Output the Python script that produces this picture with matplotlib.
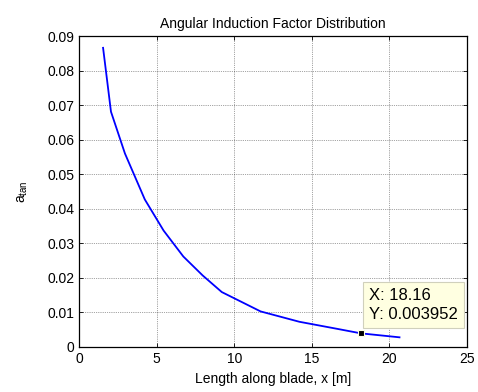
import matplotlib
matplotlib.use("Agg")
import matplotlib.pyplot as plt

# blade stations [m] and angular induction factor
x_pos = [1.55, 2.06, 2.96, 4.24, 5.45, 6.72, 7.97, 9.2, 11.7, 14.2, 16.7, 18.16, 20.65]
a_tan = [0.0866, 0.0681, 0.0560, 0.0427, 0.0337, 0.0262, 0.0207, 0.0159, 0.0103, 0.0073, 0.0052, 0.003952, 0.0028]

# data tip
tip_x = 18.16
tip_y = 0.003952

xticks = [0, 5, 10, 15, 20, 25]
yticks = [0, 0.01, 0.02, 0.03, 0.04, 0.05, 0.06, 0.07, 0.08, 0.09]

plt.rcParams['font.family'] = ['Liberation Sans', 'DejaVu Sans']
plt.rcParams['mathtext.default'] = 'regular'

fig = plt.figure(figsize=(4.78, 3.92), dpi=100)
ax = fig.add_axes([0.1653, 0.1148, 0.8117, 0.7932])

ax.plot(x_pos, a_tan, color=(0, 0, 1), linewidth=1.3)

# data tip marker + label
ax.plot([tip_x], [tip_y], marker='s', markersize=5, color='k',
        markeredgecolor='#ffffe1', markeredgewidth=0.8, zorder=5)
ax.annotate("X: %.2f\nY: %.6f" % (tip_x, tip_y), xy=(tip_x, tip_y),
            xytext=(6, 8.5), textcoords='offset points', ha='left', va='bottom',
            fontsize=12, linespacing=1.3,
            bbox=dict(boxstyle='square,pad=0.38', facecolor='#ffffe1',
                      edgecolor='#d0d0bc', linewidth=0.8), zorder=6)

ax.set_xlim(0, 25)
ax.set_ylim(0, 0.09)
ax.set_xticks(xticks)
ax.set_yticks(yticks)
ax.set_yticklabels(['0'] + ['%.2f' % v for v in yticks[1:]])
ax.tick_params(direction='in', top=True, right=True, labelsize=10, length=3, width=0.6)
ax.grid(True, color='k', linestyle=':', linewidth=0.5, alpha=0.7)
for s in ax.spines.values():
    s.set_linewidth(0.9)

ax.set_title("Angular Induction Factor Distribution", fontsize=10, pad=6)
ax.set_xlabel("Length along blade, x [m]", fontsize=10, labelpad=4.5)
ax.set_ylabel(r"a$_{tan}$", fontsize=10, labelpad=12)

fig.savefig("out.png", dpi=100)
